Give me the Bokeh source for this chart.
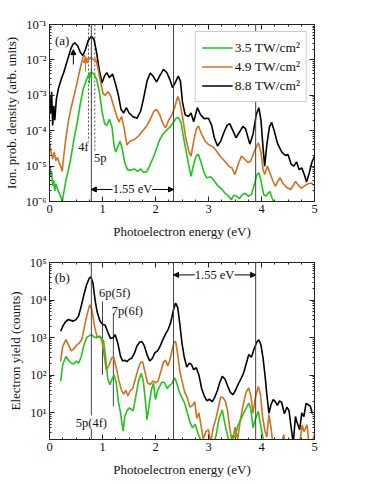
import numpy as np
from bokeh.plotting import figure
from bokeh.layouts import column
from bokeh.models import (Legend, LegendItem, LogAxis, LinearAxis, FixedTicker,
                          SingleIntervalTicker, CustomJSTickFormatter, Arrow,
                          NormalHead, Label, Range1d, Span)
from bokeh.embed import file_html
from bokeh.resources import INLINE

FONT = "Liberation Serif"

# ---------------- panel (a): ion probability density (values as log10) ----------------
a_black_E = [0.00, 0.02, 0.04, 0.06, 0.08, 0.10, 0.13, 0.17, 0.22, 0.27, 0.32, 0.36, 0.40, 0.44, 0.48,
             0.53, 0.58, 0.63, 0.68, 0.73, 0.79, 0.84, 0.89, 0.94, 0.99, 1.04, 1.08, 1.13, 1.19, 1.24,
             1.30, 1.35, 1.40, 1.45, 1.50, 1.57, 1.65, 1.72, 1.78, 1.84, 1.90, 1.95, 2.02, 2.08, 2.15,
             2.21, 2.27, 2.32, 2.37, 2.43, 2.47, 2.51, 2.56, 2.62, 2.67, 2.72, 2.79, 2.85, 2.92, 3.00,
             3.06, 3.11, 3.17, 3.23, 3.29, 3.35, 3.40, 3.46, 3.52, 3.58, 3.65, 3.70, 3.78, 3.84, 3.90,
             3.95, 3.99, 4.03, 4.06, 4.10, 4.15, 4.19, 4.24, 4.30, 4.38, 4.45, 4.50, 4.56, 4.61, 4.66,
             4.71, 4.76, 4.81, 4.85, 4.90, 4.95, 5.00]
a_black_log = [-3.05, -3.5, -2.9, -3.85, -3.3, -3.7, -3.1, -2.8, -2.55, -2.35, -2.1, -1.9, -1.7, -1.56, -1.52,
               -1.6, -1.78, -1.88, -1.7, -1.45, -1.33, -1.42, -1.8, -2.3, -2.65, -2.45, -2.36, -2.5, -2.4, -2.65,
               -3.0, -3.4, -3.5, -3.35, -3.5, -3.6, -3.65, -3.45, -3.05, -2.6, -2.37, -2.45, -2.62, -2.45, -2.27,
               -2.35, -2.55, -2.78, -2.65, -2.46, -2.6, -3.2, -3.55, -3.6, -3.5, -3.75, -3.35, -3.55, -3.66, -3.65,
               -3.85, -4.2, -4.43, -4.3, -4.05, -3.85, -3.8, -4.0, -4.2, -4.05, -3.88, -3.95, -4.38, -4.1, -3.55,
               -3.35, -3.7, -4.5, -5.0, -4.4, -3.9, -3.76, -4.0, -4.35, -4.6, -4.7, -4.67, -4.95, -5.0, -4.88,
               -5.1, -5.05, -5.25, -5.45, -5.2, -4.9, -4.72]

a_orange_E = [0.00, 0.03, 0.06, 0.09, 0.12, 0.15, 0.18, 0.21, 0.24, 0.27, 0.31, 0.35, 0.40, 0.46, 0.52,
              0.57, 0.61, 0.65, 0.69, 0.73, 0.78, 0.83, 0.87, 0.91, 0.96, 1.01, 1.05, 1.10, 1.15, 1.21,
              1.27, 1.31, 1.36, 1.41, 1.46, 1.52, 1.60, 1.68, 1.76, 1.84, 1.91, 1.97, 2.02, 2.08, 2.14,
              2.19, 2.25, 2.31, 2.36, 2.42, 2.46, 2.51, 2.57, 2.63, 2.67, 2.72, 2.77, 2.81, 2.87, 2.94,
              3.00, 3.08, 3.14, 3.22, 3.30, 3.38, 3.44, 3.50, 3.56, 3.62, 3.68, 3.75, 3.80, 3.86, 3.94,
              3.99, 4.03, 4.06, 4.11, 4.16, 4.21, 4.26, 4.30, 4.35, 4.41, 4.47, 4.55, 4.60, 4.64, 4.70,
              4.75, 4.82, 4.88, 4.94, 5.00]
a_orange_log = [-4.3, -4.6, -4.8, -4.6, -4.85, -4.75, -4.9, -5.0, -5.15, -4.7, -4.2, -3.8, -3.4, -3.03, -2.65,
                -2.3, -2.05, -1.87, -1.95, -2.0, -1.93, -2.0, -1.98, -2.2, -2.6, -2.95, -3.0, -2.9, -3.0, -3.3,
                -3.6, -3.75, -3.6, -3.95, -4.4, -4.3, -4.25, -4.15, -4.0, -3.85, -3.65, -3.45, -3.4, -3.55, -3.8,
                -3.92, -3.7, -3.55, -3.35, -3.03, -3.2, -3.6, -4.2, -4.6, -4.72, -4.3, -3.95, -3.87, -4.1, -4.3,
                -4.39, -4.45, -4.55, -4.72, -4.85, -5.0, -5.05, -5.24, -4.95, -4.72, -4.8, -4.9, -4.85, -4.6, -4.34,
                -4.6, -5.1, -5.24, -5.0, -5.2, -5.4, -5.57, -5.45, -5.33, -5.5, -5.6, -5.66, -5.55, -5.43, -5.55,
                -5.62, -5.55, -5.5, -5.48, -5.55]

a_green_E = [0.00, 0.02, 0.04, 0.06, 0.08, 0.10, 0.12, 0.15, 0.18, 0.21, 0.24, 0.27, 0.31, 0.35, 0.40,
             0.46, 0.52, 0.58, 0.64, 0.70, 0.76, 0.79, 0.84, 0.89, 0.94, 0.99, 1.04, 1.08, 1.13, 1.18,
             1.22, 1.25, 1.29, 1.33, 1.37, 1.42, 1.47, 1.53, 1.60, 1.66, 1.72, 1.78, 1.84, 1.90, 1.96,
             2.02, 2.08, 2.14, 2.20, 2.27, 2.33, 2.39, 2.43, 2.48, 2.53, 2.58, 2.63, 2.67, 2.72, 2.77,
             2.81, 2.86, 2.92, 2.97, 3.04, 3.10, 3.17, 3.25, 3.32, 3.38, 3.43, 3.48, 3.53, 3.58, 3.64,
             3.69, 3.75, 3.81, 3.86, 3.91, 3.95, 3.99, 4.04, 4.08, 4.13, 4.16, 4.20, 4.24]
a_green_log = [-5.0, -5.3, -5.15, -5.55, -5.4, -5.7, -5.5, -5.65, -5.75, -5.85, -6.0, -5.75, -5.4, -5.15, -4.8,
               -4.25, -3.8, -3.25, -2.8, -2.55, -2.38, -2.35, -2.4, -2.55, -2.9, -3.45, -3.8, -3.85, -3.68, -3.9,
               -4.45, -4.6, -4.45, -4.3, -4.5, -4.9, -5.1, -5.12, -5.08, -5.15, -5.08, -5.18, -5.15, -4.95, -4.75,
               -4.5, -4.25, -4.1, -4.0, -3.9, -3.78, -3.65, -3.63, -3.75, -4.2, -4.6, -5.0, -5.29, -4.95, -4.7,
               -4.67, -4.9, -5.2, -5.33, -5.3, -5.4, -5.55, -5.65, -5.78, -5.85, -5.95, -5.82, -5.85, -5.92, -5.8,
               -5.77, -5.85, -5.8, -5.55, -5.25, -5.19, -5.4, -5.8, -5.85, -5.75, -5.72, -5.9, -6.05]

# ---------------- panel (b): electron yield (values as log10 of counts) ----------------
b_black_E = [0.21, 0.25, 0.30, 0.35, 0.40, 0.45, 0.50, 0.55, 0.60, 0.65, 0.70, 0.75, 0.78, 0.82, 0.86,
             0.90, 0.95, 1.00, 1.05, 1.10, 1.15, 1.20, 1.24, 1.29, 1.34, 1.38, 1.42, 1.46, 1.50, 1.55,
             1.60, 1.65, 1.70, 1.74, 1.79, 1.84, 1.89, 1.94, 1.99, 2.04, 2.09, 2.14, 2.19, 2.24, 2.29,
             2.34, 2.38, 2.42, 2.46, 2.50, 2.54, 2.59, 2.64, 2.68, 2.72, 2.77, 2.82, 2.87, 2.92, 2.97,
             3.02, 3.07, 3.12, 3.17, 3.21, 3.26, 3.31, 3.36, 3.41, 3.46, 3.51, 3.56, 3.61, 3.66, 3.71,
             3.76, 3.81, 3.86, 3.91, 3.95, 3.99, 4.03, 4.07, 4.10, 4.14, 4.18, 4.22, 4.26, 4.30, 4.34,
             4.38, 4.43, 4.48, 4.52, 4.56, 4.60, 4.64, 4.67, 4.72, 4.76, 4.80, 4.84, 4.88, 4.92, 4.96]
b_black_log = [3.17, 3.30, 3.42, 3.48, 3.46, 3.44, 3.48, 3.58, 3.85, 4.15, 4.41, 4.58, 4.62, 4.45, 4.0,
               3.68, 3.45, 3.36, 3.33, 3.15, 2.98, 3.0, 3.08, 2.85, 2.5, 2.38, 2.4, 2.36, 2.42, 2.45,
               2.58, 2.78, 2.88, 2.9, 2.78, 2.55, 2.38, 2.45, 2.6, 2.65, 2.78, 2.95, 3.1, 3.22, 3.42,
               3.75, 3.92, 3.8, 3.35, 2.85, 2.5, 2.22, 2.32, 2.28, 2.15, 2.2, 2.0, 1.65, 1.45, 1.32,
               1.36, 1.3, 1.42, 1.6, 1.8, 1.97, 1.9, 1.72, 1.55, 1.48, 1.6, 1.76, 1.9, 2.05, 2.3,
               2.55, 2.48, 2.7, 2.88, 2.94, 2.8, 2.45, 1.95, 1.5, 0.99, 1.22, 1.35, 1.3, 1.2, 1.32,
               1.28, 0.98, 1.15, 1.05, 0.6, 0.2, 0.9, 0.75, 0.55, 1.0, 0.9, 1.25, 1.22, 1.18, 0.98]

b_orange_E = [0.21, 0.25, 0.31, 0.36, 0.41, 0.46, 0.51, 0.56, 0.61, 0.66, 0.71, 0.76, 0.80, 0.85, 0.90,
              0.95, 0.99, 1.03, 1.07, 1.12, 1.17, 1.21, 1.26, 1.31, 1.36, 1.40, 1.44, 1.48, 1.52, 1.57,
              1.62, 1.67, 1.72, 1.76, 1.80, 1.85, 1.90, 1.95, 2.00, 2.05, 2.10, 2.15, 2.19, 2.23, 2.27,
              2.31, 2.35, 2.38, 2.42, 2.46, 2.50, 2.55, 2.60, 2.65, 2.70, 2.74, 2.78, 2.82, 2.86, 2.90,
              2.95, 3.00, 3.04, 3.09, 3.14, 3.18, 3.23, 3.28, 3.32, 3.36, 3.40, 3.45, 3.50, 3.55, 3.60,
              3.66, 3.71, 3.76, 3.80, 3.84, 3.89, 3.94, 3.98, 4.02, 4.06, 4.10, 4.14, 4.18, 4.22, 4.30,
              4.38, 4.42, 4.46, 4.55, 4.65, 4.72, 4.77, 4.80, 4.86, 4.90, 4.95, 5.00]
b_orange_log = [2.37, 2.77, 2.95, 2.8, 2.65, 2.7, 2.8, 2.85, 2.95, 3.3, 3.62, 3.88, 3.75, 3.3, 3.0,
                3.05, 2.9, 2.55, 2.15, 2.25, 2.45, 2.48, 2.2, 1.85, 1.6, 1.5, 1.6, 1.45, 1.58, 1.65,
                1.9, 2.15, 2.35, 2.35, 2.1, 1.8, 1.75, 1.85, 1.8, 1.85, 2.1, 2.35, 2.4, 2.25, 2.4,
                2.65, 2.88, 2.9, 2.55, 2.1, 1.85, 1.55, 1.4, 1.15, 1.2, 1.3, 0.85, 1.0, 0.65, 0.3,
                0.5, 0.55, 0.2, 0.6, 0.85, 1.1, 1.42, 1.4, 1.3, 1.05, 0.6, 0.2, 0.62, 0.3, 0.8,
                1.25, 1.55, 1.66, 1.45, 0.99, 1.45, 1.7, 1.5, 0.9, 0.55, 0.35, 0.95, 0.6, 0.1, -0.3,
                0.2, 0.42, 0.0, -0.4, -0.2, 0.2, 0.68, 0.5, 0.68, 0.1, 0.2, 0.42]

b_green_E = [0.21, 0.25, 0.31, 0.36, 0.41, 0.46, 0.51, 0.55, 0.60, 0.65, 0.70, 0.75, 0.79, 0.84, 0.89,
             0.94, 0.98, 1.02, 1.06, 1.10, 1.14, 1.18, 1.22, 1.26, 1.30, 1.34, 1.37, 1.39, 1.42, 1.46,
             1.50, 1.54, 1.58, 1.63, 1.68, 1.73, 1.77, 1.81, 1.84, 1.88, 1.92, 1.96, 2.00, 2.04, 2.08,
             2.12, 2.17, 2.22, 2.26, 2.31, 2.36, 2.40, 2.45, 2.50, 2.55, 2.60, 2.65, 2.70, 2.75, 2.80,
             2.85, 2.90, 3.00, 3.10, 3.15, 3.20, 3.26, 3.31, 3.36, 3.40, 3.45, 3.50, 3.55, 3.60, 3.65,
             3.70, 3.76, 3.80, 3.84, 3.89, 3.94, 3.98, 4.02, 4.06, 4.10]
b_green_log = [1.84, 2.28, 2.5, 2.4, 2.32, 2.3, 2.38, 2.32, 2.5, 2.8, 3.0, 3.05, 3.08, 3.02, 3.0,
               3.03, 3.0, 2.9, 2.46, 1.9, 1.75, 1.9, 2.01, 1.8, 1.3, 1.0, 0.7, 0.51, 0.9, 1.05,
               1.13, 1.1, 1.05, 1.45, 1.85, 2.05, 1.85, 1.3, 0.82, 1.2, 1.6, 1.79, 1.35, 1.6, 1.7,
               1.82, 1.8, 1.65, 1.72, 1.78, 1.93, 1.8, 1.55, 1.4, 1.26, 1.0, 0.75, 0.6, 0.7, 0.45,
               0.3, 0.0, -0.2, 0.15, 0.45, 0.85, 1.08, 0.7, 0.4, 0.1, 0.4, 0.35, 0.65, 0.8, 0.95,
               1.1, 1.26, 1.1, 0.6, 0.85, 1.04, 0.7, 0.4, 0.1, -0.2]

series_labels = ["3.5 TW/cm\u00b2", "4.9 TW/cm\u00b2", "8.8 TW/cm\u00b2"]
series_colors = ["#22c41c", "#d2701e", "#000000"]

# photon-energy-spaced marker lines (eV)
level_lines = [0.79, 2.34, 3.89]
photon_energy_label = "1.55 eV"

SUP = ("const s={'-':'\\u207b','0':'\\u2070','1':'\\u00b9','2':'\\u00b2','3':'\\u00b3',"
       "'4':'\\u2074','5':'\\u2075','6':'\\u2076','7':'\\u2077','8':'\\u2078','9':'\\u2079'};"
       "const e=Math.round(Math.log10(tick));"
       "return '10'+String(e).split('').map(c=>s[c]).join('');")
BLANK = "return ' ';"


def style_axes(p, y_major, y_minor):
    bottom = p.below[0]
    left = p.left[0]
    bottom.ticker = SingleIntervalTicker(interval=1, num_minor_ticks=4)
    left.ticker = FixedTicker(ticks=y_major, minor_ticks=y_minor)
    left.formatter = CustomJSTickFormatter(code=SUP)
    right = LogAxis(ticker=FixedTicker(ticks=y_major, minor_ticks=y_minor),
                    formatter=CustomJSTickFormatter(code=BLANK))
    top = LinearAxis(ticker=SingleIntervalTicker(interval=1, num_minor_ticks=4),
                     formatter=CustomJSTickFormatter(code=BLANK))
    p.add_layout(right, "right")
    p.add_layout(top, "above")
    for ax in [bottom, left, right, top]:
        ax.major_tick_in = 5
        ax.major_tick_out = 0
        ax.minor_tick_in = 2
        ax.minor_tick_out = 0
        ax.axis_line_color = "#222222"
        ax.major_tick_line_color = "#222222"
        ax.minor_tick_line_color = "#222222"
        ax.major_label_text_font = FONT
        ax.axis_label_text_font = FONT
        ax.axis_label_text_font_style = "normal"
        ax.major_label_text_color = "#111111"
        ax.axis_label_text_color = "#111111"
        ax.major_label_text_font_size = "12.5px"
    for ax in [bottom, left]:
        ax.axis_label_text_font_size = "13px"
        ax.major_label_standoff = 3
    bottom.axis_label_standoff = 8
    left.axis_label_standoff = 4
    right.major_label_standoff = 0
    top.major_label_standoff = 0
    top.major_label_text_font_size = "4px"
    right.major_label_text_font_size = "4px"
    p.grid.visible = False
    p.outline_line_color = "#222222"


def make_fig(ylo, yhi, top_border):
    p = figure(x_range=Range1d(0, 5), y_range=Range1d(ylo, yhi), y_axis_type="log",
               frame_width=265, frame_height=177, min_border_left=41, min_border_right=14,
               min_border_top=top_border, min_border_bottom=40,
               toolbar_location=None, output_backend="svg", background_fill_color="white")
    p.xaxis.axis_label = "Photoelectron energy (eV)"
    return p


def add_label(p, x, y, text, align="center", size="12.5px", bg=None):
    lab = Label(x=x, y=y, text=text, text_font=FONT, text_font_size=size,
                text_align=align, text_baseline="middle", text_color="#111111")
    if bg:
        lab.background_fill_color = bg
    p.add_layout(lab)


# ======================= panel (a) =======================
pa = make_fig(1e-6, 1e-1, 24)
pa.yaxis.axis_label = "Ion. prob. density (arb. units)"
ya_major = [10.0 ** k for k in range(-6, 0)]
ya_minor = [m * 10.0 ** k for k in range(-6, -1) for m in range(2, 10)]
style_axes(pa, ya_major, ya_minor)

for xl in level_lines:
    pa.add_layout(Span(location=xl, dimension="height", line_color="#444444", line_width=1))
# dotted 4f / 5p position markers
pa.segment(x0=[0.735, 0.855], y0=[1e-1, 1e-1], x1=[0.735, 0.855], y1=[10 ** -4.3, 10 ** -4.58],
           line_color="#555555", line_dash="2 2", line_width=1)

rend_a = []
for E, L, c in [(a_black_E, a_black_log, series_colors[2]),
                (a_orange_E, a_orange_log, series_colors[1]),
                (a_green_E, a_green_log, series_colors[0])]:
    rend_a.append(pa.line(E, 10.0 ** np.array(L), line_color=c, line_width=1.6))
r_black, r_orange, r_green = rend_a

legend = Legend(items=[LegendItem(label=series_labels[0], renderers=[r_green]),
                       LegendItem(label=series_labels[1], renderers=[r_orange]),
                       LegendItem(label=series_labels[2], renderers=[r_black])],
                location="top_right")
legend.margin = 7
legend.padding = 6
legend.spacing = 0
legend.glyph_width = 31
legend.glyph_height = 19
legend.label_height = 19
legend.label_standoff = 2
legend.label_text_font = FONT
legend.label_text_font_size = "13.5px"
legend.label_text_color = "#111111"
legend.border_line_color = "#999999"
legend.border_line_width = 1.2
legend.background_fill_alpha = 1
pa.add_layout(legend)

add_label(pa, 0.24, 10 ** -1.45, "(a)", size="13px")
add_label(pa, 0.74, 10 ** -4.47, "4f", align="right")
add_label(pa, 0.84, 10 ** -4.78, "5p", align="left")
for xs, y0, y1, c in [(0.45, -2.13, -1.71, series_colors[2]),
                      (0.68, -2.33, -1.93, series_colors[1]),
                      (0.755, -2.67, -2.36, series_colors[0])]:
    pa.add_layout(Arrow(end=NormalHead(size=5, fill_color=c, line_color=c), x_start=xs, y_start=10 ** y0,
                        x_end=xs, y_end=10 ** y1, line_color=c, line_width=1))

ya_txt = 10 ** -5.66
add_label(pa, (level_lines[0] + level_lines[1]) / 2, ya_txt, photon_energy_label)
pa.add_layout(Arrow(end=NormalHead(size=5, fill_color="#111111"), x_start=1.19, y_start=ya_txt,
                    x_end=level_lines[0], y_end=ya_txt, line_width=1))
pa.add_layout(Arrow(end=NormalHead(size=5, fill_color="#111111"), x_start=1.94, y_start=ya_txt,
                    x_end=level_lines[1], y_end=ya_txt, line_width=1))

# ======================= panel (b) =======================
pb = make_fig(1.95, 1e5, 21)
pb.yaxis.axis_label = "Electron yield (counts)"
yb_major = [10.0 ** k for k in range(1, 6)]
yb_minor = [m * 10.0 ** k for k in range(0, 5) for m in range(2, 10) if m * 10.0 ** k >= 2]
style_axes(pb, yb_major, yb_minor)

for xl in level_lines:
    pb.add_layout(Span(location=xl, dimension="height", line_color="#444444", line_width=1))
# 6p(5f) and 7p(6f) markers
pb.segment(x0=[1.0, 1.205], y0=[10 ** 3.96, 10 ** 3.65], x1=[1.0, 1.205], y1=[10 ** 2.01, 10 ** 1.17],
           line_color="#444444", line_width=1)

for E, L, c in [(b_black_E, b_black_log, series_colors[2]),
                (b_orange_E, b_orange_log, series_colors[1]),
                (b_green_E, b_green_log, series_colors[0])]:
    pb.line(E, 10.0 ** np.array(L), line_color=c, line_width=1.6)

add_label(pb, 0.24, 10 ** 4.59, "(b)", size="13px")
add_label(pb, 1.23, 10 ** 4.19, "6p(5f)")
add_label(pb, 1.47, 10 ** 3.72, "7p(6f)")
add_label(pb, 0.79, 10 ** 0.74, "5p(4f)", bg="white")

yb_txt = 10 ** 4.67
add_label(pb, (level_lines[1] + level_lines[2]) / 2, yb_txt, photon_energy_label)
pb.add_layout(Arrow(end=NormalHead(size=5, fill_color="#111111"), x_start=2.74, y_start=yb_txt,
                    x_end=level_lines[1], y_end=yb_txt, line_width=1))
pb.add_layout(Arrow(end=NormalHead(size=5, fill_color="#111111"), x_start=3.49, y_start=yb_txt,
                    x_end=level_lines[2], y_end=yb_txt, line_width=1))

layout = column(pa, pb, spacing=0)
open("out.html", "w").write(file_html(layout, INLINE))
